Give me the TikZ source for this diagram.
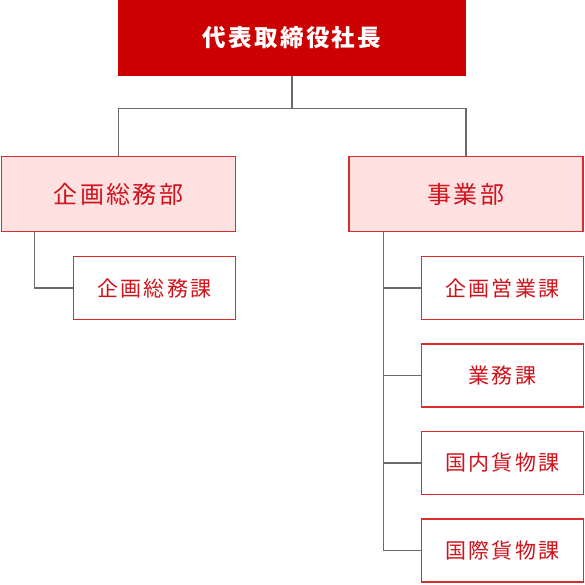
\documentclass[tikz,border=0pt]{standalone}
\usepackage{fontspec}
\newfontfamily\jpfont[LetterSpace=10]{Noto Sans CJK JP}
\usepackage{xcolor}
\usetikzlibrary{positioning}

\definecolor{topred}{HTML}{CC0000}
\definecolor{linered}{HTML}{DC2B2B}
\definecolor{textred}{HTML}{D0121B}
\definecolor{pinkfill}{HTML}{FFE1E2}
\definecolor{lineGray}{HTML}{6A6A6A}

\begin{document}
\begin{tikzpicture}[
    x=1pt, y=1pt,
    node distance=23pt,
    headbox/.style={rectangle, fill=topred, text=white, minimum width=348pt, minimum height=76pt, inner sep=0pt, font=\jpfont\fontsize{23.5}{27}\selectfont\bfseries},
    deptbox/.style={rectangle, draw=linered, line width=1.5pt, fill=pinkfill, text=textred, minimum width=234pt, minimum height=75pt, inner sep=0pt, font=\jpfont\fontsize{24}{28}\selectfont},
    secbox/.style={rectangle, draw=linered, line width=1.5pt, fill=white, text=textred, minimum width=162pt, minimum height=63pt, inner sep=0pt, font=\jpfont\fontsize{21}{25}\selectfont},
    link/.style={draw=lineGray, line width=1.2pt}
]
\useasboundingbox (0,0) rectangle (585,-585);

% Nodes
\node[headbox] (pres) at (292,-38) {代表取締役社長};
\node[deptbox] (gen) at (118.5,-194) {企画総務部};
\node[deptbox] (biz) at (466,-194) {事業部};
\node[secbox] (gensec) at (154.5,-288) {企画総務課};
\node[secbox] (sales) at (502.5,-288) {企画営業課};
\node[secbox, below=of sales] (ops) {業務課};
\node[secbox, below=of ops] (dom) {国内貨物課};
\node[secbox, below=of dom] (intl) {国際貨物課};

% Connectors
\draw[link] (pres.south) -- ++(0,-32) -| (gen.north);
\draw[link] (pres.south) -- ++(0,-32) -| (biz.north);
\draw[link] ([xshift=34pt]gen.south west) |- (gensec.west);
\foreach \sec in {sales,ops,dom,intl}
    \draw[link] ([xshift=35pt]biz.south west) |- (\sec.west);

\end{tikzpicture}
\end{document}
